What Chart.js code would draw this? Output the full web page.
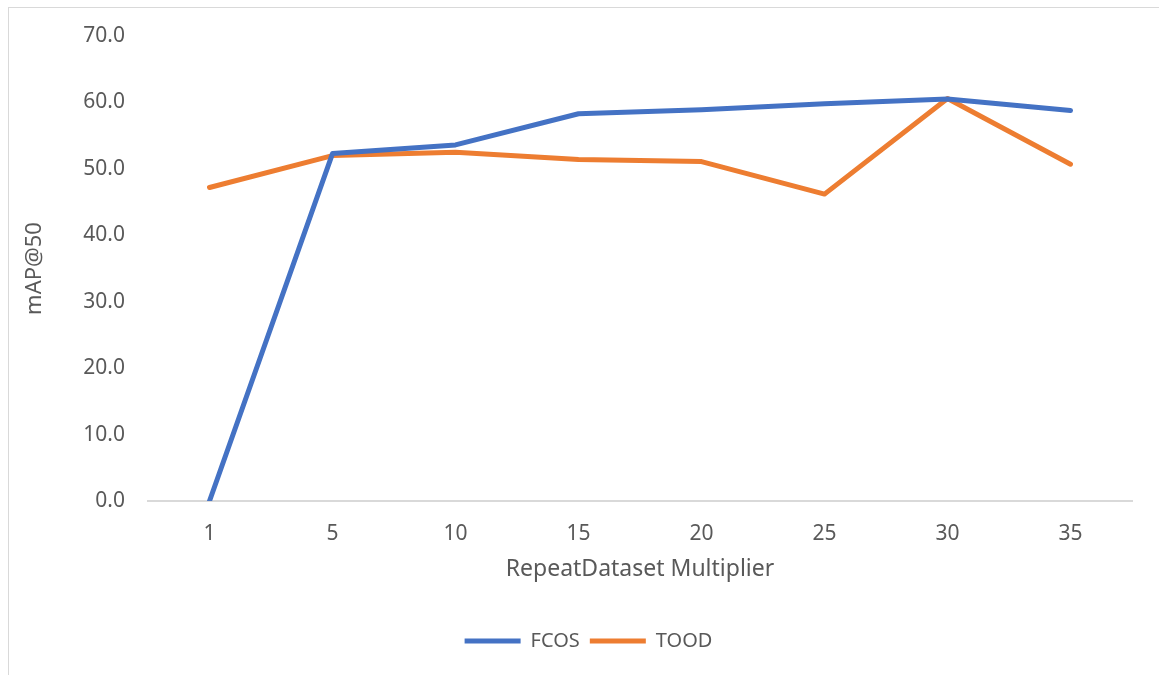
<!DOCTYPE html>
<html>
<head>
<meta charset="utf-8">
<title>mAP@50 vs RepeatDataset Multiplier</title>
<script src="https://cdn.jsdelivr.net/npm/chart.js@4.4.1/dist/chart.umd.min.js"></script>
<style>
  html, body { margin: 0; padding: 0; background: #fff; overflow: hidden; }
  .frame {
    position: absolute; left: 8px; top: 7px; width: 1200px; height: 720px;
    border: 1px solid #d9d9d9; box-sizing: border-box;
  }
  .wrap { position: absolute; left: 0; top: 0; width: 1159px; height: 675px; }
</style>
</head>
<body>
<div class="frame"></div>
<div class="wrap"><canvas id="chart" width="1159" height="675"></canvas></div>
<script>
  // x categories (RepeatDataset multiplier)
  var multipliers = ['1', '5', '10', '15', '20', '25', '30', '35'];

  // mAP@50 per model
  var fcos = [0.0, 52.3, 53.6, 58.3, 58.9, 59.8, 60.5, 58.8];
  var tood = [47.2, 52.0, 52.5, 51.4, 51.1, 46.2, 60.6, 50.7];

  var yTicks = [0, 10, 20, 30, 40, 50, 60, 70];

  var BLUE = '#4472c4';
  var ORANGE = '#ed7d31';
  var INK = '#595959';
  var AXIS = '#d9d9d9';
  var FONT = "'Noto Sans', 'Open Sans', sans-serif";

  function series(label, data, color) {
    return {
      label: label,
      data: data,
      borderColor: color,
      backgroundColor: color,
      borderWidth: 5,
      pointRadius: 0,
      pointHoverRadius: 0,
      tension: 0,
      borderCapStyle: 'round',
      borderJoinStyle: 'round'
    };
  }

  new Chart(document.getElementById('chart'), {
    type: 'line',
    data: {
      labels: multipliers,
      datasets: [series('FCOS', fcos, BLUE), series('TOOD', tood, ORANGE)]
    },
    options: {
      responsive: false,
      animation: false,
      // left pad shifts the legend centre to match; y title pulled back with negative padding
      layout: { padding: { top: 36, right: 27, bottom: 14, left: 45 } },
      plugins: {
        tooltip: { enabled: false },
        legend: {
          position: 'bottom',
          labels: {
            color: INK,
            font: { family: FONT, size: 20 },
            boxWidth: 56,
            boxHeight: 5,
            padding: 10,
            generateLabels: function (chart) {
              return chart.data.datasets.map(function (ds, i) {
                return {
                  text: ds.label,
                  fillStyle: ds.borderColor,
                  strokeStyle: ds.borderColor,
                  lineWidth: 0,
                  fontColor: INK,
                  datasetIndex: i
                };
              });
            }
          }
        }
      },
      scales: {
        x: {
          offset: true,
          grid: { display: false, drawTicks: false, offset: true },
          border: { display: true, color: AXIS, width: 2 },
          ticks: { color: INK, font: { family: FONT, size: 21 }, padding: 20, maxRotation: 0 },
          title: {
            display: true,
            text: 'RepeatDataset Multiplier',
            color: INK,
            font: { family: FONT, size: 23 },
            padding: { top: 4, bottom: 38 }
          },
          afterFit: function (scale) { scale.height = 120; }
        },
        y: {
          min: 0,
          max: 70,
          afterBuildTicks: function (scale) {
            scale.ticks = yTicks.map(function (v) { return { value: v }; });
          },
          grid: { display: false, drawTicks: false },
          border: { display: false },
          ticks: {
            color: INK,
            font: { family: FONT, size: 21 },
            padding: 23,
            callback: function (v) { return Number(v).toFixed(1); }
          },
          title: {
            display: true,
            text: 'mAP@50',
            color: INK,
            font: { family: FONT, size: 22 },
            padding: { top: -23, bottom: 0 }
          },
          afterFit: function (scale) { scale.width = 103; }
        }
      }
    }
  });
</script>
</body>
</html>
